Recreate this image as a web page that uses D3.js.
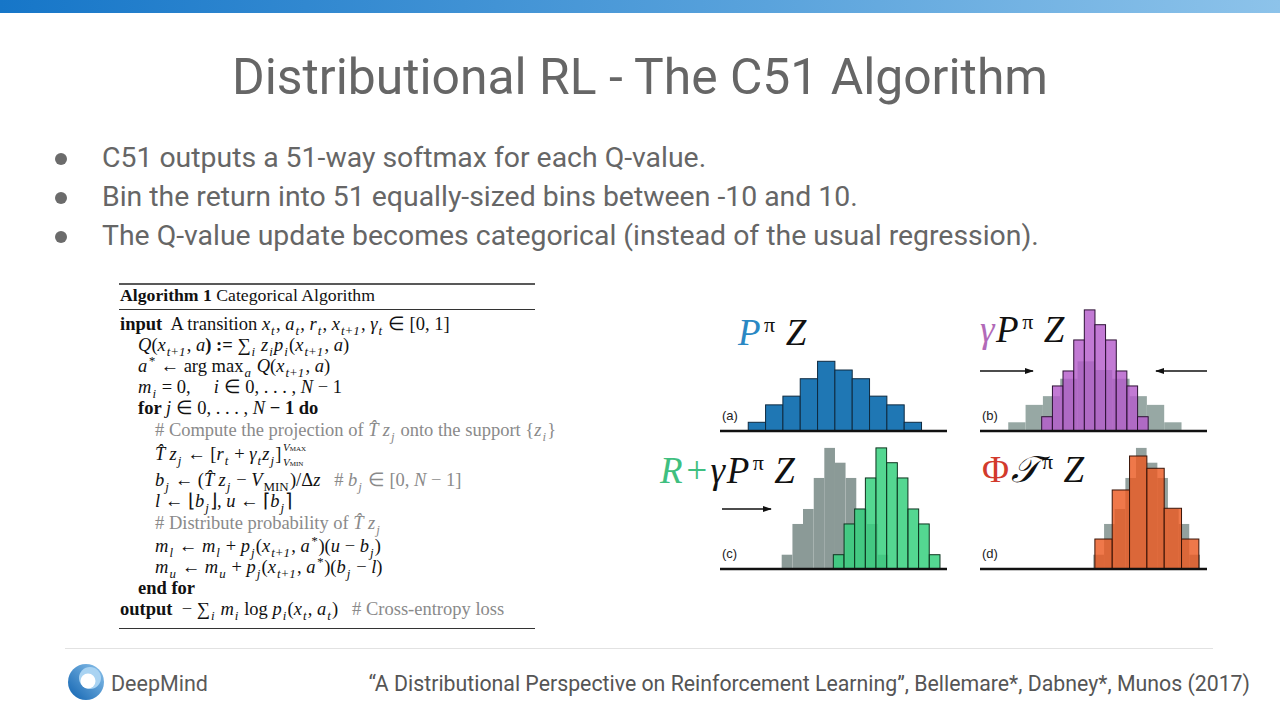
<!DOCTYPE html>
<html>
<head>
<meta charset="utf-8">
<script src="https://cdn.jsdelivr.net/npm/d3@7"></script>
<style>
  body { margin: 0; background: #fff; }
  svg { display: block; }
  text { white-space: pre; }
</style>
</head>
<body>
<script>
// slide text
var titleText = 'Distributional RL - The C51 Algorithm';
var bullets = [
  'C51 outputs a 51-way softmax for each Q-value.',
  'Bin the return into 51 equally-sized bins between -10 and 10.',
  'The Q-value update becomes categorical (instead of the usual regression).'
];
var citation = '\u201cA Distributional Perspective on Reinforcement Learning\u201d, Bellemare*, Dabney*, Munos (2017)';

// histogram data (atoms are left bin edges in return units, bin width 1)
var atomsA = [0, 1, 2, 3, 4, 5, 6, 7, 8, 9];
var probA = [1, 3, 4, 6, 8, 7, 6, 4, 3, 1];
var atomsB = [1.93, 2.55, 3.16, 3.78, 4.39, 5.0, 5.62, 6.23, 6.85, 7.46];
var probB = [1.64, 5.17, 6.89, 10.45, 13.9, 12.2, 10.45, 6.89, 5.17, 1.64];
var atomsC = [4.91, 5.53, 6.14, 6.76, 7.37, 7.99, 8.60, 9.22, 9.83, 10.45];
var probC = [1.64, 5.17, 6.89, 10.45, 13.9, 12.2, 10.45, 6.89, 5.17, 1.64];
var atomsD = [5, 6, 7, 8, 9, 10];
var probD = [3.44, 9.07, 12.97, 11.56, 6.97, 3.44];
var gammaWidth = 0.615;

var svg = d3.select('body').append('svg')
  .attr('width', 1280)
  .attr('height', 720);

var defs = svg.append('defs');
var grad = defs.append('linearGradient').attr('id', 'topbar');
grad.append('stop').attr('offset', '0%').attr('stop-color', '#1676c8');
grad.append('stop').attr('offset', '60%').attr('stop-color', '#5aa3dc');
grad.append('stop').attr('offset', '100%').attr('stop-color', '#8dc3ea');

var lg = defs.append('linearGradient').attr('id', 'logo')
  .attr('x1', '0%').attr('y1', '100%').attr('x2', '100%').attr('y2', '0%');
lg.append('stop').attr('offset', '0%').attr('stop-color', '#0f62b0');
lg.append('stop').attr('offset', '100%').attr('stop-color', '#8ec4ec');

defs.append('marker').attr('id', 'arrow')
  .attr('viewBox', '0 0 10 10').attr('refX', 9).attr('refY', 5)
  .attr('markerWidth', 7).attr('markerHeight', 7).attr('orient', 'auto')
  .append('path').attr('d', 'M0,1.5 L10,5 L0,8.5 Z').attr('fill', '#111');

svg.append('rect').attr('x', 0).attr('y', 0).attr('width', 1280).attr('height', 13)
  .attr('fill', 'url(#topbar)');

// title
svg.append('text')
  .attr('x', 640).attr('y', 94)
  .attr('text-anchor', 'middle')
  .style('font', '49.8px Roboto')
  .attr('fill', '#666')
  .text(titleText);

// bullets
var bulletG = svg.append('g');
bullets.forEach(function(b, i) {
  var y = 167 + i * 39;
  bulletG.append('circle').attr('cx', 61).attr('cy', y - 8).attr('r', 6).attr('fill', '#6b6b6b');
  bulletG.append('text').attr('x', 102).attr('y', y)
    .style('font', '28.4px Roboto').attr('fill', '#666').text(b);
});

// ---- algorithm box ----
var alg = svg.append('g').style('font-family', '"Liberation Serif", "Times New Roman", serif');
alg.append('line').attr('x1', 119).attr('x2', 535).attr('y1', 284).attr('y2', 284)
  .attr('stroke', '#222').attr('stroke-width', 1.5);
alg.append('line').attr('x1', 119).attr('x2', 535).attr('y1', 309.5).attr('y2', 309.5)
  .attr('stroke', '#333').attr('stroke-width', 1);
alg.append('line').attr('x1', 119).attr('x2', 535).attr('y1', 628.5).attr('y2', 628.5)
  .attr('stroke', '#333').attr('stroke-width', 1);

// each segment "style:text"  r roman, i italic, b bold, _ subscript, ^ superscript, g grey roman, G grey italic, k grey sub
var algLines = [
  { x: 120, y: 301, size: 17.7, segs: ['b:Algorithm 1', 'r: Categorical Algorithm'] },
  { x: 120, y: 330, segs: ['b:input', 'r:  A transition ', 'i:x', '_:t', 'r:, ', 'i:a', '_:t', 'r:, ', 'i:r', '_:t', 'r:, ', 'i:x', '_:t+1', 'r:, ', 'i:\u03b3', '_:t', 'r: \u2208 [0, 1]'] },
  { x: 138, y: 351, segs: ['i:Q', 'r:(', 'i:x', '_:t+1', 'r:, ', 'i:a', 'b:) := ', 'r:\u2211', '_:i', 'r: ', 'i:z', '_:i', 'i:p', '_:i', 'r:(', 'i:x', '_:t+1', 'r:, ', 'i:a', 'r:)'] },
  { x: 138, y: 372, segs: ['i:a', '^:*', 'r: \u2190 arg max', '_:a', 'r: ', 'i:Q', 'r:(', 'i:x', '_:t+1', 'r:, ', 'i:a', 'r:)'] },
  { x: 138, y: 393, segs: ['i:m', '_:i', 'r: = 0,     ', 'i:i', 'r: \u2208 0, . . . , ', 'i:N', 'r: \u2212 1'] },
  { x: 138, y: 414, segs: ['b:for ', 'i:j', 'r: \u2208 0, . . . , ', 'i:N', 'b: \u2212 1 do'] },
  { x: 155, y: 436, segs: ['g:# Compute the projection of ', 'G:T\u0302 z', 'k:j', 'g: onto the support {', 'G:z', 'k:i', 'g:}'] },
  { x: 155, y: 460, limits: true, segs: ['i:T\u0302 z', '_:j', 'r: \u2190 [', 'i:r', '_:t', 'r: + ', 'i:\u03b3', '_:t', 'i:z', '_:j', 'r:]'] },
  { x: 155, y: 486, segs: ['i:b', '_:j', 'r: \u2190 (', 'i:T\u0302 z', '_:j', 'r: \u2212 ', 'i:V', '_:MIN', 'r:)/\u0394', 'i:z', 'r:   ', 'g:# ', 'G:b', 'k:j', 'g: \u2208 [0, ', 'G:N', 'g: \u2212 1]'] },
  { x: 155, y: 507, segs: ['i:l', 'r: \u2190 \u230a', 'i:b', '_:j', 'r:\u230b, ', 'i:u', 'r: \u2190 \u2308', 'i:b', '_:j', 'r:\u2309'] },
  { x: 155, y: 529, segs: ['g:# Distribute probability of ', 'G:T\u0302 z', 'k:j'] },
  { x: 155, y: 552, segs: ['i:m', '_:l', 'r: \u2190 ', 'i:m', '_:l', 'r: + ', 'i:p', '_:j', 'r:(', 'i:x', '_:t+1', 'r:, ', 'i:a', '^:*', 'r:)(', 'i:u', 'r: \u2212 ', 'i:b', '_:j', 'r:)'] },
  { x: 155, y: 573, segs: ['i:m', '_:u', 'r: \u2190 ', 'i:m', '_:u', 'r: + ', 'i:p', '_:j', 'r:(', 'i:x', '_:t+1', 'r:, ', 'i:a', '^:*', 'r:)(', 'i:b', '_:j', 'r: \u2212 ', 'i:l', 'r:)'] },
  { x: 138, y: 594, segs: ['b:end for'] },
  { x: 120, y: 615, segs: ['b:output', 'r:  \u2212 \u2211', '_:i', 'r: ', 'i:m', '_:i', 'r: log ', 'i:p', '_:i', 'r:(', 'i:x', '_:t', 'r:, ', 'i:a', '_:t', 'r:)   ', 'g:# Cross-entropy loss'] }
];

function writeSegs(textSel, segs, size) {
  var shift = 0, prevSmall = false;
  segs.forEach(function(s) {
    var k = s.indexOf(':');
    var st = s.slice(0, k), txt = s.slice(k + 1);
    var small = (st === '_' || st === '^' || st === 'k');
    var ts = textSel.append('tspan').text(txt);
    var target = 0;
    if (st === '_' || st === 'k') target = size * 0.28;
    if (st === '^') target = -size * 0.38;
    ts.attr('dy', target - shift);
    shift = target;
    var dx = 0;
    if (small) dx += 1;
    if (prevSmall) dx += 1.2;
    if (dx) ts.attr('dx', dx);
    prevSmall = small;
    if (small) ts.style('font-size', (size * 0.7) + 'px');
    if (st === 'i' || st === 'G' || st === '^' || (small && !/^[A-Z]+$/.test(txt) && !/^[0-9+]+$/.test(txt))) {
      ts.style('font-style', 'italic');
    }
    if (st === 'b') ts.style('font-weight', 'bold');
    if (st === 'g' || st === 'G' || st === 'k') ts.attr('fill', '#8a8a8a');
  });
}

algLines.forEach(function(l) {
  var size = l.size || 18.5;
  var t = alg.append('text').attr('x', l.x).attr('y', l.y)
    .style('font-size', size + 'px').attr('fill', '#111');
  writeSegs(t, l.segs, size);
  if (l.limits) {
    var bb = t.node().getBBox();
    var lx = bb.x + bb.width + 1.5;
    var up = alg.append('text').attr('x', lx).attr('y', l.y - 9).style('font-size', '11px').attr('fill', '#111');
    up.append('tspan').style('font-style', 'italic').text('V');
    up.append('tspan').style('font-size', '7px').text('MAX');
    var dn = alg.append('text').attr('x', lx).attr('y', l.y + 6).style('font-size', '11px').attr('fill', '#111');
    dn.append('tspan').style('font-style', 'italic').text('V');
    dn.append('tspan').style('font-size', '7px').text('MIN');
  }
});

// ---- histogram panels ----
var returnDomain = [-1.63, 11.47];
var panelW = 227;

var panels = [
  { id: '(a)', x0: 720, base: 431, layers: [
      { atoms: atomsA, probs: probA, width: 1, fill: '#1f77b4', op: 1, stroke: '#0e2a40' }] },
  { id: '(b)', x0: 980, base: 431, layers: [
      { atoms: atomsA, probs: probA, width: 1, fill: '#97a8a4', op: 1, stroke: 'none' },
      { atoms: atomsB, probs: probB, width: gammaWidth, fill: '#b45dcb', op: 0.82, stroke: '#2e1236' }],
    arrows: [[980, 1033, 371], [1207, 1156, 371]] },
  { id: '(c)', x0: 720, base: 569, layers: [
      { atoms: atomsB, probs: probB, width: gammaWidth, fill: '#8b9a97', op: 1, stroke: 'none' },
      { atoms: atomsC, probs: probC, width: gammaWidth, fill: '#36d07e', op: 0.85, stroke: '#0e3520' }],
    arrows: [[722, 771, 509]] },
  { id: '(d)', x0: 980, base: 569, layers: [
      { atoms: atomsC, probs: probC, width: gammaWidth, fill: '#93a19e', op: 1, stroke: 'none' },
      { atoms: atomsD, probs: probD, width: 1, fill: '#ec5a22', op: 0.82, stroke: '#3a1408' }] }
];

panels.forEach(function(p) {
  var x = d3.scaleLinear().domain(returnDomain).range([p.x0, p.x0 + panelW]);
  var y = d3.scaleLinear().domain([0, 8]).range([p.base, p.base - 69.7]);
  var g = svg.append('g');

  p.layers.forEach(function(L) {
    g.selectAll(null).data(L.probs).enter().append('rect')
      .attr('x', function(d, i) { return x(L.atoms[i]); })
      .attr('y', function(d) { return y(d); })
      .attr('width', function(d, i) { return x(L.atoms[i] + L.width) - x(L.atoms[i]); })
      .attr('height', function(d) { return p.base - y(d); })
      .attr('fill', L.fill)
      .attr('fill-opacity', L.op)
      .attr('stroke', L.stroke)
      .attr('stroke-width', 1);
  });

  g.append('line').attr('x1', p.x0).attr('x2', p.x0 + panelW)
    .attr('y1', p.base).attr('y2', p.base)
    .attr('stroke', '#111').attr('stroke-width', 2.5);

  g.append('text').attr('x', p.x0 + 2).attr('y', p.base - 11)
    .style('font', '13px "Liberation Sans", Arial, sans-serif').attr('fill', '#222').text(p.id);

  (p.arrows || []).forEach(function(a) {
    g.append('line').attr('x1', a[0]).attr('x2', a[1]).attr('y1', a[2]).attr('y2', a[2])
      .attr('stroke', '#111').attr('stroke-width', 1.3).attr('marker-end', 'url(#arrow)');
  });
});

// panel formulas
var formulas = [
  { x: 738, y: 345, parts: [['P', '#2a88c4', 'i'], ['\u03c0', '#111', '^'], ['\u2009Z', '#111', 'i']] },
  { x: 980, y: 342, parts: [['\u03b3', '#b26ab8', 'i'], ['P', '#111', 'i'], ['\u03c0', '#111', '^'], ['\u2009Z', '#111', 'i']] },
  { x: 660, y: 483, parts: [['R+', '#3fbf80', 'i'], ['\u03b3', '#111', 'i'], ['P', '#111', 'i'], ['\u03c0', '#111', '^'], ['\u2009Z', '#111', 'i']] },
  { x: 982, y: 482, parts: [['\u03a6', '#d23a2c', 'r'], ['\ud835\udcaf', '#111', 'i'], ['\u03c0', '#111', '^'], ['\u2009Z', '#111', 'i']] }
];
formulas.forEach(function(f) {
  var t = svg.append('text').attr('x', f.x).attr('y', f.y)
    .style('font-family', '"Liberation Serif", "DejaVu Serif", serif').style('font-size', '37px')
    .style('letter-spacing', '1.5px');
  var shift = 0;
  f.parts.forEach(function(pt) {
    var ts = t.append('tspan').text(pt[0]).attr('fill', pt[1]);
    var target = pt[2] === '^' ? -13 : 0;
    ts.attr('dy', target - shift);
    shift = target;
    if (pt[2] === '^') ts.style('font-size', '22px').attr('dx', 2);
    if (pt[2] === 'i') ts.style('font-style', 'italic');
  });
});

// footer
svg.append('line').attr('x1', 65).attr('x2', 1213).attr('y1', 648.5).attr('y2', 648.5)
  .attr('stroke', '#e2e2e2').attr('stroke-width', 1);

var logo = svg.append('g');
logo.append('circle').attr('cx', 86).attr('cy', 682).attr('r', 18).attr('fill', 'url(#logo)');
logo.append('circle').attr('cx', 90).attr('cy', 678).attr('r', 11).attr('fill', '#a9d3f2');
logo.append('circle').attr('cx', 88).attr('cy', 681).attr('r', 7.5).attr('fill', '#fff');

svg.append('text').attr('x', 111).attr('y', 691)
  .style('font', '21.5px Roboto').attr('fill', '#5a5a5a').text('DeepMind');

svg.append('text').attr('x', 1250).attr('y', 691).attr('text-anchor', 'end')
  .style('font', '21.3px Roboto').attr('fill', '#555').text(citation);
</script>
</body>
</html>
